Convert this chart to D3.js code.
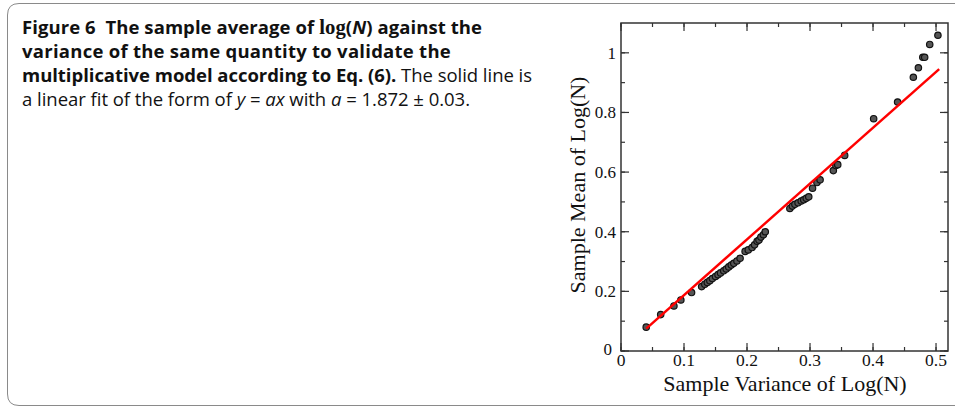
<!DOCTYPE html>
<html><head><meta charset="utf-8">
<script src="https://cdn.jsdelivr.net/npm/d3@7"></script>
<style>body{margin:0;background:#fff}svg{display:block}</style>
</head><body>
<script>
const varianceX = [0.040,0.063,0.084,0.095,0.112,
  0.128,0.133,0.137,0.141,0.145,0.150,0.154,0.158,0.163,0.167,0.171,0.175,0.179,0.184,0.189,
  0.197,0.202,0.208,0.212,0.216,0.219,0.222,0.226,0.229,
  0.268,0.272,0.276,0.281,0.286,0.290,0.294,0.298,
  0.304,0.311,0.316,0.337,0.341,0.344,0.355,
  0.401,0.439,0.464,0.472,0.479,0.482,0.490,0.503];
const meanY = [0.080,0.122,0.151,0.171,0.196,
  0.216,0.224,0.230,0.236,0.243,0.250,0.256,0.262,0.269,0.275,0.282,0.288,0.294,0.302,0.311,
  0.334,0.339,0.347,0.356,0.368,0.372,0.382,0.390,0.400,
  0.478,0.486,0.492,0.497,0.503,0.507,0.512,0.517,
  0.546,0.565,0.574,0.605,0.622,0.625,0.656,
  0.779,0.835,0.918,0.950,0.985,0.985,1.028,1.059];
const fitA = 1.872;
const fitRange = [0.04, 0.505];
const xTicks = [0,0.1,0.2,0.3,0.4,0.5];
const yTicks = [0,0.2,0.4,0.6,0.8,1];

const W=955,H=407;
const svg=d3.select("body").append("svg").attr("width",W).attr("height",H);

// caption box
svg.append("path").attr("d","M 960 3.5 L 19 3.5 Q 7.5 3.5 7.5 15 L 7.5 394 Q 7.5 405.5 19 405.5 L 960 405.5")
  .attr("fill","none").attr("stroke","#8a8a8a").attr("stroke-width",1);

const cap = svg.append("g").attr("font-family","'Open Sans', sans-serif").attr("font-size",18.5).attr("fill","#111");
function line(y, target, parts){
  const t=cap.append("text").attr("x",22).attr("y",y);
  parts.forEach(p=>{
    const s=t.append("tspan").text(p.t);
    if(p.b) s.attr("font-weight","bold");
    if(p.i) s.attr("font-style","italic");
    if(p.serif) s.attr("font-family","'Liberation Serif', serif").attr("font-size","1.12em");
  });
  const w=t.node().getComputedTextLength();
  const n=t.text().length;
  t.attr("letter-spacing",((target-22)-w)/n);
  return t;
}
line(34,482,[{t:"Figure 6\u00a0\u00a0The sample average of ",b:1},{t:"log",b:1,serif:1},{t:"(",b:1},{t:"N",b:1,i:1},{t:") against the",b:1}]);
line(58,451,[{t:"variance of the same quantity to validate the",b:1}]);
line(82,532,[{t:"multiplicative model according to Eq. (6).",b:1},{t:" The solid line is"}]);
line(106,470,[{t:"a linear fit of the form of "},{t:"y",i:1},{t:" = "},{t:"ax",i:1},{t:" with "},{t:"a",i:1},{t:" = 1.872 \u00b1 0.03."}]);

// chart
const L=621,R=948,T=23,B=351;
const x=d3.scaleLinear().domain([0,0.519]).range([L,R]);
const y=d3.scaleLinear().domain([0,1.1]).range([B,T]);
const g=svg.append("g");
const axisCol="#333";
const xMinor=d3.range(0,0.52,0.05), yMinor=d3.range(0,1.1,0.1);
function tk(vals,len,side){
  vals.forEach(v=>{
    if(side==="b") g.append("line").attr("x1",x(v)).attr("x2",x(v)).attr("y1",B).attr("y2",B-len);
    if(side==="t") g.append("line").attr("x1",x(v)).attr("x2",x(v)).attr("y1",T).attr("y2",T+len);
    if(side==="l") g.append("line").attr("y1",y(v)).attr("y2",y(v)).attr("x1",L).attr("x2",L+len);
    if(side==="r") g.append("line").attr("y1",y(v)).attr("y2",y(v)).attr("x1",R).attr("x2",R-len);
  });
}
tk(xMinor,4,"b");tk(xMinor,4,"t");tk(yMinor,4,"l");tk(yMinor,4,"r");
tk(xTicks,8,"b");tk(xTicks,8,"t");tk(yTicks,8,"l");tk(yTicks,8,"r");
g.selectAll("line").attr("stroke",axisCol).attr("stroke-width",1.2);
g.append("rect").attr("x",L).attr("y",T).attr("width",R-L).attr("height",B-T)
  .attr("fill","none").attr("stroke",axisCol).attr("stroke-width",1.5);

const lab=svg.append("g").attr("font-family","'Liberation Serif', serif").attr("fill","#111");
lab.selectAll(".xt").data(xTicks).enter().append("text").attr("x",d=>x(d)).attr("y",366)
  .attr("text-anchor","middle").attr("font-size",17.5).text(d=>d===0?"0":d3.format(".1f")(d));
lab.selectAll(".yt").data(yTicks).enter().append("text").attr("x",d=>d===0?612:616).attr("y",d=>y(d)+(d===0?4:6))
  .attr("text-anchor","end").attr("font-size",17).text(d=>d===0||d===1?String(d):d3.format(".1f")(d));
lab.append("text").attr("x",785).attr("y",391).attr("text-anchor","middle").attr("font-size",22).text("Sample Variance of Log(N)");
lab.append("text").attr("transform","translate(585,185) rotate(-90)").attr("text-anchor","middle").attr("font-size",22).text("Sample Mean of Log(N)");

// points
const pts=varianceX.map((v,i)=>[v,meanY[i]]);
svg.append("g").selectAll("circle").data(pts).enter().append("circle")
  .attr("cx",d=>x(d[0])).attr("cy",d=>y(d[1])).attr("r",3.2)
  .attr("fill","#555").attr("stroke","#111").attr("stroke-width",1.2);

// fit line
svg.append("line").attr("x1",x(fitRange[0])).attr("y1",y(fitA*fitRange[0]))
  .attr("x2",x(fitRange[1])).attr("y2",y(fitA*fitRange[1]))
  .attr("stroke","#ff0000").attr("stroke-width",2.5);
</script>
</body></html>
